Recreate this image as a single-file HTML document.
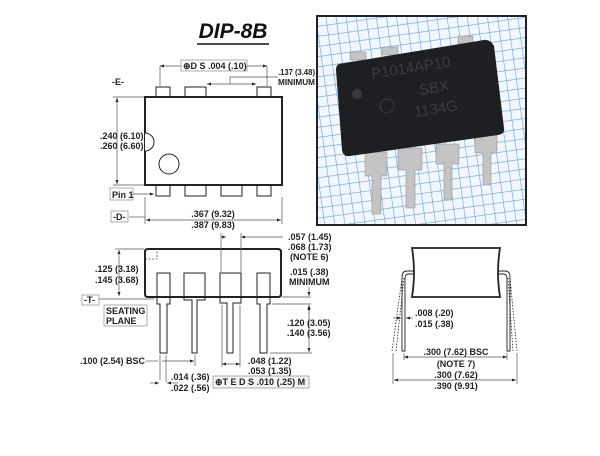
<!DOCTYPE html>
<html><head><meta charset="utf-8"><style>
html,body{margin:0;padding:0;background:#fff;}
svg text{font-family:"Liberation Sans",sans-serif;font-weight:bold;font-size:9px;fill:#222;}
</style></head><body>
<svg width="600" height="451" viewBox="0 0 600 451" xmlns="http://www.w3.org/2000/svg">
<defs>
<pattern id="g" width="10" height="10" patternUnits="userSpaceOnUse" patternTransform="rotate(-8)">
<rect width="10" height="10" fill="#f3f7fc"/>
<path d="M0 0H10M0 0V10" stroke="#5aa4e6" stroke-width="1.2"/>
</pattern>
<marker id="a" viewBox="0 0 8 6" refX="8" refY="3" markerWidth="6" markerHeight="5" orient="auto-start-reverse"><path d="M0 0L8 3L0 6z" fill="#222"/></marker>
</defs>
<!-- title -->
<text x="233" y="38" text-anchor="middle" style="font-size:21px;font-style:italic;fill:#111">DIP-8B</text>
<line x1="197" y1="44" x2="269" y2="44" stroke="#111" stroke-width="1.5"/>

<!-- top view -->
<g stroke="#222" fill="#fff" stroke-width="1">
<rect x="156" y="87" width="14" height="10"/><rect x="185" y="87" width="21" height="10"/><rect x="257" y="87" width="14" height="10"/>
<rect x="156" y="185" width="14" height="11"/><rect x="185" y="185" width="21" height="11"/><rect x="221" y="185" width="21" height="11"/><rect x="257" y="185" width="14" height="11"/>
<rect x="145" y="97" width="137" height="88" stroke-width="2"/>
<path d="M145 133 A9 9 0 0 1 145 151" /><circle cx="169" cy="164" r="10"/>
</g>
<g stroke="#555" stroke-width="0.7" fill="none">
<line x1="160" y1="66" x2="267" y2="66" marker-start="url(#a)" marker-end="url(#a)"/>
<line x1="160" y1="66" x2="160" y2="86"/><line x1="267" y1="66" x2="267" y2="86"/>
<line x1="207" y1="84" x2="256" y2="84" marker-start="url(#a)" marker-end="url(#a)"/>
<path d="M230 84V77H278"/>
<line x1="117" y1="98" x2="117" y2="184" marker-start="url(#a)" marker-end="url(#a)"/>
<line x1="113" y1="97" x2="144" y2="97"/><line x1="113" y1="185" x2="144" y2="185"/>
<line x1="133" y1="194" x2="154" y2="194" marker-end="url(#a)"/>
<line x1="129" y1="217" x2="145" y2="217"/>
<line x1="146" y1="220" x2="281" y2="220" marker-start="url(#a)" marker-end="url(#a)"/>
<line x1="145" y1="197" x2="145" y2="224"/><line x1="282" y1="197" x2="282" y2="224"/>
</g>
<rect x="181" y="60" width="66" height="11" fill="#fff" stroke="#777" stroke-width="0.6"/>
<text x="183" y="69">⊕D S .004 (.10)</text>
<text x="278" y="75" textLength="37" lengthAdjust="spacingAndGlyphs" style="font-size:8.5px">.137 (3.48)</text>
<text x="278" y="85" textLength="37" lengthAdjust="spacingAndGlyphs" style="font-size:8px">MINIMUM</text>
<text x="112" y="85">-E-</text>
<text x="100" y="139">.240 (6.10)</text><text x="100" y="149">.260 (6.60)</text>
<rect x="110" y="188" width="23" height="12" fill="#fff" stroke="#777" stroke-width="0.6"/><text x="112" y="198">Pin 1</text>
<rect x="111" y="211" width="17" height="11" fill="#fff" stroke="#777" stroke-width="0.6"/><text x="113" y="220">-D-</text>
<text x="213" y="217" text-anchor="middle">.367 (9.32)</text><text x="213" y="228" text-anchor="middle">.387 (9.83)</text>

<!-- photo -->
<rect x="317" y="16" width="209" height="209" fill="url(#g)" stroke="#222" stroke-width="2"/>
<g fill="#c4c4c4" stroke="#888" stroke-width="0.5">
<path d="M365 152h22v24h-6v38h-9v-38h-7z"/><path d="M398 148h24v22h-7v38h-9v-38h-8z"/>
<path d="M436 144h23v20h-7v36h-8v-36h-8z"/><path d="M475 135h22v18h-6v32h-8v-32h-8z"/>
<rect x="350" y="52" width="16" height="8"/><rect x="382" y="47" width="16" height="8"/><rect x="458" y="36" width="15" height="8"/>
</g>
<path d="M339 64L484 40Q490 39 494 46L504 128Q505 134 498 135L350 156Q343 157 342 150L336 70Q336 65 339 64z" fill="#1e1f22"/>
<circle cx="357" cy="94" r="5" fill="#3a3a3a"/>
<text x="372" y="79" transform="rotate(-9 372 79)" style="font-size:15px;font-weight:normal;fill:#3b3c40">P1014AP10</text>
<text x="420" y="95" transform="rotate(-9 420 95)" style="font-size:15px;font-weight:normal;fill:#3b3c40">SBX</text>
<text x="415" y="117" transform="rotate(-9 415 117)" style="font-size:15px;font-weight:normal;fill:#3b3c40">1134G</text>
<circle cx="387" cy="106" r="7" fill="none" stroke="#3b3c40"/>

<!-- side view -->
<g stroke="#222" fill="#fff" stroke-width="1">
<path d="M157 273h13v31h-3v49h-7v-49h-3z"/>
<path d="M184 273h21v27h-8v53h-5v-53h-8z"/>
<path d="M220 273h21v30h-8v50h-6v-50h-7z"/>
<path d="M257 273h13v31h-3v49h-7v-49h-3z"/>
<path d="M148 249H278Q281 249 281 252V294Q281 297 278 297H148Q145 297 145 294V252Q145 249 148 249z" fill="none" stroke-width="2"/>
</g>
<path d="M145 259H157V249" fill="none" stroke="#444" stroke-dasharray="2 1.5" stroke-width="0.8"/>
<g stroke="#555" stroke-width="0.7" fill="none">
<line x1="119" y1="250" x2="119" y2="296" marker-start="url(#a)" marker-end="url(#a)"/>
<line x1="115" y1="249" x2="144" y2="249"/><line x1="99" y1="299" x2="154" y2="299"/>
<line x1="221" y1="237" x2="226" y2="237" marker-end="url(#a)"/><line x1="241" y1="237" x2="283" y2="237" marker-start="url(#a)"/>
<line x1="221" y1="233" x2="221" y2="272"/><line x1="241" y1="233" x2="241" y2="272"/>
<line x1="282" y1="297" x2="311" y2="297"/><line x1="272" y1="304" x2="311" y2="304"/>
<line x1="309" y1="287" x2="309" y2="296" marker-end="url(#a)"/><line x1="309" y1="314" x2="309" y2="305" marker-end="url(#a)"/>
<line x1="309" y1="306" x2="309" y2="352" marker-start="url(#a)" marker-end="url(#a)"/>
<line x1="270" y1="353" x2="312" y2="353"/>
<line x1="146" y1="361" x2="158" y2="361"/>
<line x1="160" y1="355" x2="160" y2="380"/><line x1="166" y1="355" x2="166" y2="382"/>
<line x1="195" y1="355" x2="195" y2="366"/>
<line x1="162" y1="361" x2="194" y2="361" marker-end="url(#a)"/>
<line x1="150" y1="383" x2="159" y2="383" marker-end="url(#a)"/><line x1="178" y1="383" x2="167" y2="383" marker-end="url(#a)"/>
<line x1="222" y1="305" x2="222" y2="367"/><line x1="240" y1="305" x2="240" y2="367"/>
<line x1="222" y1="364" x2="240" y2="364" marker-start="url(#a)" marker-end="url(#a)"/>
</g>
<text x="95" y="272">.125 (3.18)</text><text x="95" y="283">.145 (3.68)</text>
<rect x="82" y="295" width="17" height="10" fill="#fff" stroke="#777" stroke-width="0.6"/><text x="84" y="303">-T-</text>
<rect x="104" y="305" width="43" height="21" fill="#fff" stroke="#777" stroke-width="0.6"/>
<text x="106" y="314">SEATING</text><text x="106" y="324">PLANE</text>
<text x="288" y="240">.057 (1.45)</text><text x="288" y="250">.068 (1.73)</text><text x="290" y="260">(NOTE 6)</text>
<text x="290" y="275">.015 (.38)</text><text x="289" y="285">MINIMUM</text>
<text x="287" y="326">.120 (3.05)</text><text x="287" y="336">.140 (3.56)</text>
<text x="80" y="364">.100 (2.54) BSC</text>
<text x="171" y="380">.014 (.36)</text><text x="171" y="391">.022 (.56)</text>
<text x="248" y="364">.048 (1.22)</text><text x="248" y="374">.053 (1.35)</text>
<rect x="213" y="376" width="96" height="12" fill="#f4f4f4" stroke="#777" stroke-width="0.6"/>
<text x="215" y="385">⊕T E D S .010 (.25) M</text>

<!-- end view -->
<g stroke="#222" fill="none">
<path d="M412 248H500Q496 272 500 297H412Q416 272 412 248z" stroke-width="1.8" fill="#fff"/>
<path d="M413 271H407Q402 271 402 277V351H405V278Q405 274 409 274H413" stroke-width="0.9"/>
<path d="M499 271H505Q510 271 510 277V351H507V278Q507 274 503 274H499" stroke-width="0.9"/>
<path d="M402 278L392 351M404 278L396 351M510 278L517 351M508 278L513 351" stroke-dasharray="1.5 1.5" stroke-width="0.8"/>
</g>
<g stroke="#555" stroke-width="0.7" fill="none">
<line x1="393" y1="318" x2="401" y2="318" marker-end="url(#a)"/><line x1="413" y1="318" x2="406" y2="318" marker-end="url(#a)"/>
<line x1="404" y1="357" x2="507" y2="357" marker-start="url(#a)" marker-end="url(#a)"/>
<line x1="404" y1="353" x2="404" y2="360"/><line x1="507" y1="353" x2="507" y2="360"/>
<line x1="394" y1="380" x2="516" y2="380" marker-start="url(#a)" marker-end="url(#a)"/>
<line x1="393" y1="353" x2="393" y2="384"/><line x1="517" y1="353" x2="517" y2="384"/>
</g>
<text x="415" y="316">.008 (.20)</text><text x="415" y="327">.015 (.38)</text>
<text x="456" y="355" text-anchor="middle">.300 (7.62) BSC</text><text x="456" y="367" text-anchor="middle">(NOTE 7)</text>
<text x="456" y="378" text-anchor="middle">.300 (7.62)</text><text x="456" y="389" text-anchor="middle">.390 (9.91)</text>
</svg>
</body></html>
